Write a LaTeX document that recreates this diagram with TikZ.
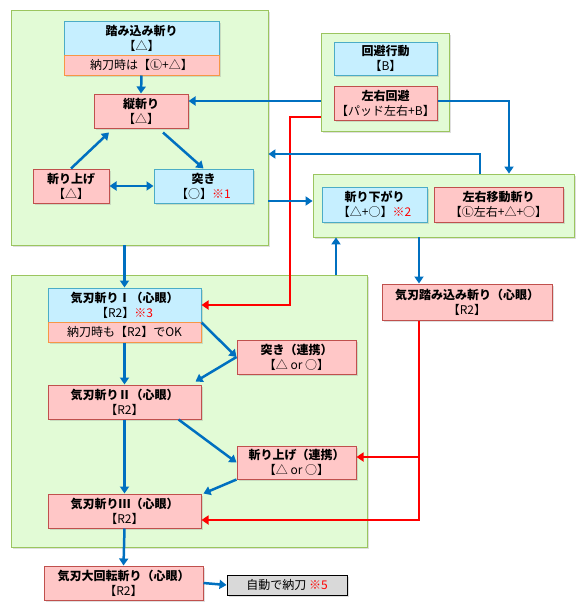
\documentclass[tikz,border=0pt]{standalone}
\usepackage{fontspec}
\setmainfont{Noto Sans CJK JP}
\usetikzlibrary{arrows.meta,shadows}
\definecolor{groupfill}{RGB}{226,251,214}
\definecolor{groupline}{RGB}{155,197,95}
\definecolor{bluefill}{RGB}{198,239,255}
\definecolor{blueline}{RGB}{75,172,198}
\definecolor{pinkfill}{RGB}{255,199,199}
\definecolor{pinkline}{RGB}{192,80,77}
\definecolor{subline}{RGB}{247,150,70}
\definecolor{grayfill}{RGB}{217,217,217}
\definecolor{arrowblue}{RGB}{0,112,192}
\definecolor{arrowred}{RGB}{255,0,0}
\begin{document}
\begin{tikzpicture}[x=1pt,y=-1pt,
  grp/.style={draw=groupline, fill=groupfill, line width=0.8pt, inner sep=0pt,
    drop shadow={shadow xshift=1.5pt, shadow yshift=-1.5pt, opacity=0.25}},
  bluebox/.style={draw=blueline, fill=bluefill, line width=1pt, inner sep=0pt,
    minimum height=34pt, align=center, font=\fontsize{12}{15}\selectfont,
    drop shadow={shadow xshift=1.5pt, shadow yshift=-1.5pt, opacity=0.25}},
  pinkbox/.style={bluebox, draw=pinkline, fill=pinkfill},
  subbox/.style={pinkbox, draw=subline, minimum height=20pt},
  graybox/.style={bluebox, draw=black, fill=grayfill, minimum height=20pt},
  flow/.style={draw=arrowblue, line width=2.5pt, -{Triangle[width=9pt,length=7pt]}},
  redflow/.style={flow, draw=arrowred}]
\useasboundingbox (0,0) rectangle (588,616);
% Groups
\node[grp, minimum width=257pt, minimum height=235pt] (g1) at (139.5,127.5) {};
\node[grp, minimum width=128pt, minimum height=98pt] (g2) at (385,82) {};
\node[grp, minimum width=261pt, minimum height=63pt] (g3) at (443.5,205.5) {};
\node[grp, minimum width=356pt, minimum height=272pt] (g4) at (189,411) {};
% Group 1
\node[bluebox, minimum width=155pt] (fumi) at (141.5,38) {\textbf{踏み込み斬り}\\【△】};
\node[subbox, minimum width=155pt] (fumisub) at (141.5,65) {納刀時は【Ⓛ+△】};
\node[pinkbox, minimum width=94pt] (tate) at (141,111) {\textbf{縦斬り}\\【△】};
\node[pinkbox, minimum width=76pt] (kiriage) at (71,186) {\textbf{斬り上げ}\\【△】};
\node[bluebox, minimum width=99pt] (tsuki) at (203.5,186) {\textbf{突き}\\【○】\textcolor{arrowred}{※1}};
% Group 2
\node[bluebox, minimum width=103pt, minimum height=33pt] (kaihi) at (385.5,58.5) {\textbf{回避行動}\\【B】};
\node[pinkbox, minimum width=103pt] (sayu) at (385.5,103) {\textbf{左右回避}\\【パッド左右+B】};
% Group 3
\node[bluebox, minimum width=105pt, minimum height=35pt] (kudari) at (374.5,204.5) {\textbf{斬り下がり}\\【△+○】\textcolor{arrowred}{※2}};
\node[pinkbox, minimum width=129pt, minimum height=35pt] (yoko) at (498.5,204.5) {\textbf{左右移動斬り}\\【Ⓛ左右+△+○】};
\node[pinkbox, minimum width=170pt, minimum height=36pt] (kfumi) at (467,302) {\textbf{気刃踏み込み斬り（心眼）}\\【R2】};
% Group 4
\node[bluebox, minimum width=153pt] (k1) at (124.5,305) {\textbf{気刃斬りⅠ（心眼）}\\【R2】\textcolor{arrowred}{※3}};
\node[subbox, minimum width=153pt] (k1sub) at (124.5,332) {納刀時も【R2】でOK};
\node[pinkbox, minimum width=119pt] (tsukiR) at (296.5,357) {\textbf{突き（連携）}\\【△ or ○】};
\node[pinkbox, minimum width=153pt] (k2) at (124.5,402) {\textbf{気刃斬りⅡ（心眼）}\\【R2】};
\node[pinkbox, minimum width=119pt, minimum height=33pt] (kiriR) at (296.5,462.5) {\textbf{斬り上げ（連携）}\\【△ or ○】};
\node[pinkbox, minimum width=153pt] (k3) at (124.5,511) {\textbf{気刃斬りⅢ（心眼）}\\【R2】};
% Finish
\node[pinkbox, minimum width=159pt] (dai) at (123.5,583) {\textbf{気刃大回転斬り（心眼）}\\【R2】};
\node[graybox, minimum width=120pt] (auto) at (287,585) {自動で納刀 \textcolor{arrowred}{※5}};
% Bends
\coordinate (bF) at (300,101);
\coordinate (rA) at (290,117);
\coordinate (bA) at (509,0);
\coordinate (bB) at (480,154);
\coordinate (bC) at (290,201);
\coordinate (bD) at (419,0);
\coordinate (bE) at (336,0);
\coordinate (rB) at (419,520);
\coordinate (rC) at (419,457);
% Arrows group 1
\draw[flow] (fumisub.south) -- (tate.north);
\draw[flow] ([shift={(22,4)}]tate.south) -- (tsuki.north);
\draw[flow] (kiriage.north) -- ([shift={(-32,4)}]tate.south);
\draw[flow, {Triangle[width=9pt,length=7pt]}-{Triangle[width=9pt,length=7pt]}] (kiriage.east) -- (tsuki.west);
% Arrows between groups
\draw[flow] (g2.west |- bF) -- (tate.east |- bF);
\draw[flow] (sayu.east |- bF) -| (g3.north -| bA);
\draw[redflow] (g2.west |- rA) -- (rA) |- (k1.east);
\draw[flow] (g3.north -| bB) |- (g1.east |- bB);
\draw[flow] (g1.east |- bC) -- (g3.west |- bC);
\draw[flow] (g3.south -| bD) -- (kfumi.north -| bD);
\draw[flow] (g4.north -| bE) -- (g3.south -| bE);
\draw[flow] (g1.south -| k1.north) -- (k1.north);
\draw[redflow] (kfumi.south -| rB) -- (rB) -- (k3.east |- rB);
\draw[redflow] (rC) -- (kiriR.east |- rC);
% Arrows group 4
\draw[flow] (k1sub.south) -- (k2.north);
\draw[flow] (k1.south east) -- (tsukiR.west);
\draw[flow] (tsukiR.west) -- ([shift={(-6,-3)}]k2.north east);
\draw[flow] ([shift={(-23,0)}]k2.south east) -- (kiriR.west);
\draw[flow] (kiriR.south west) -- ([shift={(2,0)}]k3.north east);
\draw[flow] (k2.south) -- (k3.north);
\draw[flow] (k3.south) -- (dai.north);
\draw[flow] (dai.east) -- (auto.west);
\end{tikzpicture}
\end{document}
